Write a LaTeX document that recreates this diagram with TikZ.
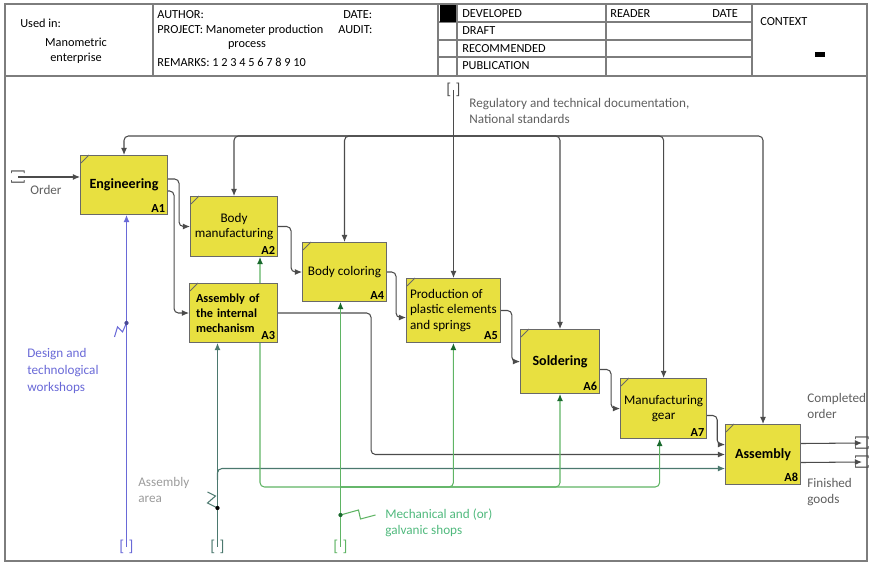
\documentclass[tikz,border=0pt]{standalone}
\usepackage{fontspec}
\setmainfont{Carlito}
\usepackage{xcolor}
\usetikzlibrary{arrows.meta, positioning, calc, backgrounds}
\definecolor{boxfill}{RGB}{232,224,64}
\definecolor{boxline}{RGB}{105,105,105}
\definecolor{linegray}{RGB}{75,75,75}
\definecolor{framegray}{RGB}{125,125,125}
\definecolor{mblue}{RGB}{105,105,215}
\definecolor{mteal}{RGB}{75,120,110}
\definecolor{mgreen}{RGB}{95,180,100}
\definecolor{tipgreen}{RGB}{25,105,45}
\definecolor{txtgray}{RGB}{95,95,95}
\definecolor{txtlight}{RGB}{155,155,155}
\definecolor{txtgreen}{RGB}{80,185,125}

\begin{document}
\begin{tikzpicture}[x=0.02cm, y=-0.02cm, >={Latex[length=4pt,width=3.4pt]},
    func/.style={draw=boxline, fill=boxfill, line width=0.6pt, anchor=north west,
        inner sep=2pt, align=center, font=\fontsize{7.5}{9}\selectfont},
    funcb/.style={func, font=\bfseries\fontsize{8}{9}\selectfont},
    idx/.style={anchor=south east, inner sep=1.5pt, font=\bfseries\fontsize{7}{8}\selectfont},
    ctrl/.style={->, draw=linegray, line width=0.6pt, rounded corners=2.5pt},
    mech/.style={-{Latex[length=4pt,width=3.4pt,color=#1]}, line width=0.6pt, rounded corners=2.5pt},
    tunnel/.style={inner sep=0pt, font=\fontsize{9}{10}\selectfont},
    lbl/.style={anchor=west, inner sep=0pt, align=left, font=\fontsize{7.5}{9}\selectfont},
    hdr/.style={anchor=west, inner sep=0pt, font=\fontsize{7}{8.5}\selectfont}]
    \useasboundingbox (0,0) rectangle (870,563);

    \draw[framegray, line width=0.7pt] (5,4) rectangle (867,561);
    \draw[framegray, line width=0.7pt] (5,76) -- (867,76);
    \foreach \x in {153,438,457,606,752}
        \draw[framegray, line width=0.7pt] (\x,4) -- (\x,76);
    \foreach \y in {22,40,57}
        \draw[framegray, line width=0.6pt] (438,\y) -- (752,\y);
    \fill (440,5) rectangle (456,22);
    \fill (815,52) rectangle (825,57);

    \node[hdr] (husd) at (20,23) {Used in:};
    \node[hdr, anchor=center] (hman) at (76,42) {Manometric};
    \node[hdr, anchor=center] (hent) at (76,58) {enterprise};
    \node[hdr] (haut) at (157,15) {AUTHOR:};
    \node[hdr] (hdat) at (343,15) {DATE:};
    \node[hdr] (hprj) at (157,30) {PROJECT: Manometer production};
    \node[hdr] (haud) at (338,30) {AUDIT:};
    \node[hdr, anchor=center] (hpro) at (247,46) {process};
    \node[hdr] (hrem) at (157,62) {REMARKS: 1 2 3 4 5 6 7 8 9 10};
    \node[hdr] (hdev) at (462,14) {DEVELOPED};
    \node[hdr] (hdra) at (462,31) {DRAFT};
    \node[hdr] (hrec) at (462,49) {RECOMMENDED};
    \node[hdr] (hpub) at (462,66) {PUBLICATION};
    \node[hdr] (hrea) at (610,14) {READER};
    \node[hdr] (hdt2) at (712,14) {DATE};
    \node[hdr] (hctx) at (760,22) {CONTEXT};

    \node[funcb, minimum width=1.74cm, minimum height=1.18cm] (a1) at (80,155) {Engineering};
    \node[func, minimum width=1.74cm, minimum height=1.2cm] (a2) at (190,196) {Body\\manufacturing};
    \node[funcb, minimum width=1.76cm, minimum height=1.18cm, align=left, text width=1.5cm,
        font=\bfseries\fontsize{7}{8.6}\selectfont] (a3) at (189,283) {Assembly of\\the internal\\mechanism};
    \node[func, minimum width=1.68cm, minimum height=1.18cm] (a4) at (302,242) {Body coloring};
    \node[func, minimum width=1.86cm, minimum height=1.28cm, align=left] (a5) at (406,278) {Production of\\plastic elements\\and springs};
    \node[funcb, minimum width=1.58cm, minimum height=1.28cm] (a6) at (520,329) {Soldering};
    \node[func, minimum width=1.68cm, minimum height=1.2cm] (a7) at (620,378) {Manufacturing\\gear};
    \node[funcb, minimum width=1.5cm, minimum height=1.2cm] (a8) at (725,424) {Assembly};

    \foreach \b/\t in {a1/A1,a2/A2,a3/A3,a4/A4,a5/A5,a6/A6,a7/A7,a8/A8} {
        \node[idx] (i\b) at (\b.south east) {\t};
        \draw[boxline, line width=0.5pt] ($(\b.north west)+(1,8)$) -- ++(8,-8);
    }

    \node[tunnel, text=linegray] (treg) at (453.5,90) {[\hspace{2.5pt}]};
    \node[tunnel, text=linegray, rotate=90] (tord) at (18,177) {[\hspace{2.5pt}]};
    \node[tunnel, text=linegray, rotate=90] (tco) at (862,443) {[\hspace{2.5pt}]};
    \node[tunnel, text=linegray, rotate=90] (tfg) at (862,462) {[\hspace{2.5pt}]};
    \node[tunnel, text=mblue] (tdes) at (126.5,547) {[\hspace{2.5pt}]};
    \node[tunnel, text=mteal] (tasm) at (217.5,547) {[\hspace{2.5pt}]};
    \node[tunnel, text=mgreen] (tmec) at (340.5,547) {[\hspace{2.5pt}]};

    \coordinate (jt) at (453.5,136);
    \coordinate (ja) at (217.5,480);
    \coordinate (jm) at (340.5,487);
    \coordinate (zd) at (126.5,323);
    \coordinate (za) at (217.5,508);
    \coordinate (zm) at (340.5,515);

    \begin{pgfonlayer}{background}
    \draw[ctrl] (treg.center) -- (treg |- a5.north);
    \foreach \b in {a1,a2,a4,a6,a7,a8}
        \draw[ctrl] (jt) -| (\b.north);
    \draw[ctrl] (tord.center) -- (tord -| a1.west);

    \draw[ctrl] ($(a1.east)+(0,-6)$) -- ++(11,0) |- (a2.west);
    \draw[ctrl] ($(a1.east)+(0,6)$) -- ++(6,0) |- (a3.west);
    \draw[ctrl] (a2.east) -- ++(13,0) |- (a4.west);
    \draw[ctrl] (a4.east) -- ++(9,0) |- ($(a5.west)+(0,7)$);
    \draw[ctrl] (a5.east) -- ++(11,0) |- (a6.west);
    \draw[ctrl] ($(a6.east)+(0,8)$) -- ++(11,0) |- (a7.west);
    \draw[ctrl] ($(a7.east)+(0,7)$) -- ++(10,0) |- ($(a8.west)+(0,-10)$);
    \draw[ctrl] (a3.east) -- ++(93,0) |- (a8.west);
    \draw[ctrl] ($(a8.east)+(0,-11)$) -- (tco.center);
    \draw[ctrl] ($(a8.east)+(0,8)$) -- (tfg.center);

    \draw[mech=mblue, draw=mblue] (tdes.center) -- (tdes |- a1.south);
    \draw[mech=mteal, draw=mteal] (tasm.center) -- (tasm |- a3.south);
    \draw[mech=mteal, draw=mteal] (ja) |- ($(a8.west)+(0,14)$);
    \draw[mech=tipgreen, draw=mgreen] (tmec.center) -- (tmec |- a4.south);
    \draw[mech=tipgreen, draw=mgreen] (jm) -| ($(a2.south)+(26,0)$);
    \draw[mech=tipgreen, draw=mgreen] (jm) -| (a5.south);
    \draw[mech=tipgreen, draw=mgreen] (jm) -| (a6.south);
    \draw[mech=tipgreen, draw=mgreen] (jm) -| ($(a7.south)+(-4,0)$);
    \end{pgfonlayer}

    \draw[mblue, line width=0.6pt] (zd) -- ++(-4,9) -- ++(-5,-5) -- ++(-3,10);
    \fill[mblue!70!black] (zd) circle (1.2pt);
    \draw[mteal, line width=0.6pt] (za) -- ++(-10,-5) -- ++(8,-7) -- ++(-8,-4);
    \fill[black] (za) circle (1.2pt);
    \draw[mgreen, line width=0.6pt] (zm) -- ++(18,-5) -- ++(2,9) -- ++(15,-4);
    \fill[tipgreen] (zm) circle (1.2pt);

    \node[lbl, text=txtgray] (lord) at (30,190) {Order};
    \node[lbl, text=txtgray] (lreg) at (469,111) {Regulatory and technical documentation,\\National standards};
    \node[lbl, text=mblue, font=\fontsize{7.5}{9.5}\selectfont] (ldes) at (27,371) {Design and\\technological\\workshops};
    \node[lbl, text=txtlight] (lasm) at (138,490) {Assembly\\area};
    \node[lbl, text=txtgreen] (lmec) at (385,523) {Mechanical and (or)\\galvanic shops};
    \node[lbl, text=txtgray] (lco) at (807,406) {Completed\\order};
    \node[lbl, text=txtgray] (lfg) at (807,492) {Finished\\goods};
\end{tikzpicture}
\end{document}
